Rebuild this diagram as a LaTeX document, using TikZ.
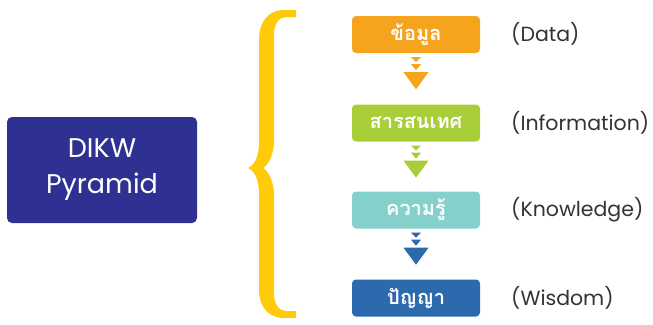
\documentclass[tikz,border=0pt]{standalone}
\usepackage{fontspec}
\setmainfont{Poppins}
\newfontfamily\thaifont[Script=Thai]{Loma}
\usetikzlibrary{calc}
\definecolor{cnavy}{HTML}{2E3192}
\definecolor{corange}{HTML}{F6A31E}
\definecolor{clime}{HTML}{A9CF38}
\definecolor{cteal}{HTML}{84D0CB}
\definecolor{cblue}{HTML}{2C6AAE}
\definecolor{cbrace}{HTML}{FFCA08}
\definecolor{ctext}{HTML}{333333}
\tikzset{
  stagebox/.style={fill=#1, rounded corners=4pt, minimum width=128pt, minimum height=37pt, inner sep=0pt, text=white, font=\thaifont\bfseries\fontsize{20}{22}\selectfont},
  lbl/.style={anchor=west, text=ctext, font=\fontsize{20.5}{22}\selectfont, inner sep=0pt},
}
\newcommand{\stagearrow}[2]{%
  \begin{scope}[shift={(#1.south)}]
    \fill[#2] (-5,4) -- (5,4) -- (0,9) -- cycle;
    \fill[#2] (-5,11) -- (5,11) -- (0,17) -- cycle;
    \fill[#2] (-12.5,19) -- (12.5,19) -- (0,36) -- cycle;
  \end{scope}}
\begin{document}
\begin{tikzpicture}[x=1pt,y=-1pt]
\useasboundingbox (0,0) rectangle (653,324);
% main box
\node[fill=cnavy, rounded corners=5pt, minimum width=190pt, minimum height=106pt, inner sep=0pt, text=white, align=center, font=\fontsize{27}{36}\selectfont] (dikw) at (102,170) {DIKW\\Pyramid};
% brace
\fill[cbrace] (296,10) -- (284,10) .. controls (268,10) and (259,22) .. (259,40) -- (259,142) .. controls (259,158) and (254,165) .. (248,168) .. controls (254,171) and (259,178) .. (259,194) -- (259,290) .. controls (259,306) and (268,318) .. (284,318) -- (296,318) -- (296,311) -- (286,311) .. controls (279,311) and (274,304) .. (274,294) -- (274,196) .. controls (274,182) and (269,172) .. (263,168) .. controls (269,164) and (274,154) .. (274,140) -- (274,34) .. controls (274,24) and (279,17) .. (286,17) -- (296,17) -- cycle;
% stages
\node[stagebox=corange] (s1) at (416,34.5) {ข้อมูล};
\node[stagebox=clime] (s2) at (416,123) {สารสนเทศ};
\node[stagebox=cteal] (s3) at (416,210) {ความรู้};
\node[stagebox=cblue] (s4) at (416,298) {ปัญญา};
\stagearrow{s1}{corange}
\stagearrow{s2}{clime}
\stagearrow{s3}{cblue}
% labels
\node[lbl] (l1) at (511,34) {(Data)};
\node[lbl] (l2) at (511,123) {(Information)};
\node[lbl] (l3) at (511,210) {(Knowledge)};
\node[lbl] (l4) at (511,298) {(Wisdom)};
\end{tikzpicture}
\end{document}
